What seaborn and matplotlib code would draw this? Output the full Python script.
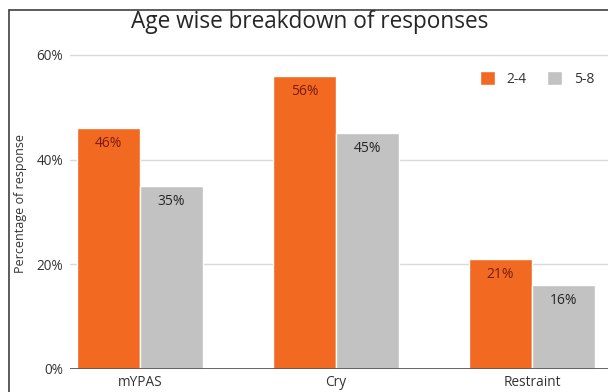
import matplotlib
matplotlib.use("Agg")
import matplotlib.pyplot as plt
from matplotlib.lines import Line2D
import seaborn as sns
import pandas as pd

# Response rates (%) by measure and age group
categories = ["mYPAS", "Cry", "Restraint"]
age_groups = ["2-4", "5-8"]
values_2_4 = [46, 56, 21]
values_5_8 = [35, 45, 16]
y_ticks = [0, 20, 40, 60]
y_tick_labels = ["0%", "20%", "40%", "60%"]

palette = {"2-4": "#F26A21", "5-8": "#C2C2C2"}
label_colors = {"2-4": "#7A1A10", "5-8": "#262626"}

df = pd.DataFrame({
    "measure": categories * 2,
    "age": ["2-4"] * 3 + ["5-8"] * 3,
    "pct": values_2_4 + values_5_8,
})

sns.set_style("white")
plt.rcParams["font.family"] = ["Open Sans", "DejaVu Sans"]

W, H = 608, 392
fig = plt.figure(figsize=(W / 100, H / 100), dpi=100)
left, right, top, bottom = 70, 608, 45, 369
ax = fig.add_axes([left / W, (H - bottom) / H, (right - left) / W, (bottom - top) / H])

bar_width = 0.645
sns.barplot(data=df, x="measure", y="pct", hue="age", order=categories,
            hue_order=age_groups, palette=palette, width=bar_width, gap=0.005,
            saturation=1, ax=ax, legend=True)

ax.set_xlim(-0.357, 2.388)
ax.set_ylim(0, 61.9)
ax.set_yticks(y_ticks)
ax.set_yticklabels(y_tick_labels)
ax.grid(axis="y", color="#D9D9D9", linewidth=1)
ax.set_axisbelow(True)
for s in ax.spines.values():
    s.set_visible(False)
ax.axhline(0, color="#595959", linewidth=1.3, zorder=5)
ax.tick_params(axis="both", length=0, labelsize=9.8, colors="#333333")
ax.tick_params(axis="x", pad=4)
ax.tick_params(axis="y", pad=5)
ax.set_xlabel("")
ax.set_ylabel("Percentage of response", fontsize=9, color="#333333")
ax.yaxis.set_label_coords((27 - left) / (right - left), 0.51)

# Value labels inside the top of each bar
bw = bar_width / 2
for j, grp in enumerate(age_groups):
    vals = values_2_4 if grp == "2-4" else values_5_8
    for i, v in enumerate(vals):
        xc = i + (j - 0.5) * bw
        ax.annotate(f"{v}%", (xc, v), xytext=(0, -11), textcoords="offset points",
                    ha="center", va="center", fontsize=10, color=label_colors[grp])

leg = ax.legend(ncol=2, loc="center right",
                bbox_to_anchor=((607 - left) / (right - left), (bottom - 79) / (bottom - top)),
                frameon=False, fontsize=10, handlelength=1.1, handleheight=1.1,
                handletextpad=0.85, columnspacing=1.45)
for t in leg.get_texts():
    t.set_color("#333333")

fig.text(310 / W, 1 - 22 / H, "Age wise breakdown of responses", ha="center",
         va="center", fontsize=16.3, color="#262626")

# Outer frame (left and top edges)
fig.add_artist(Line2D([9 / W, 9 / W], [0, 1 - 9.5 / H], transform=fig.transFigure,
                      color="#404040", linewidth=1.2))
fig.add_artist(Line2D([9 / W, 1], [1 - 9.5 / H, 1 - 9.5 / H], transform=fig.transFigure,
                      color="#404040", linewidth=1.2))

fig.savefig("out.png", dpi=100, facecolor="white")
